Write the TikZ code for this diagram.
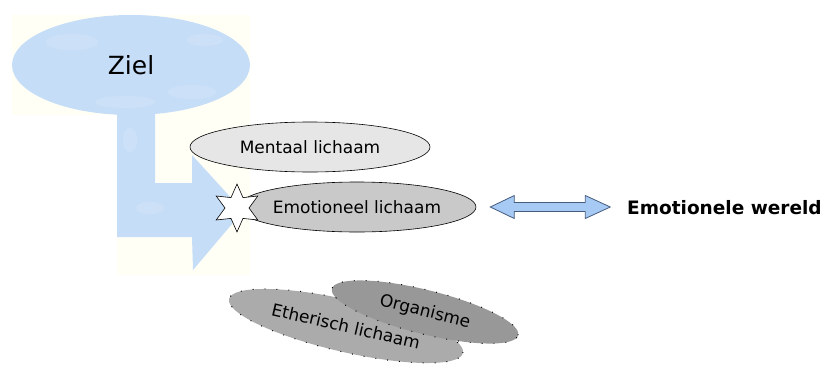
\documentclass[tikz,border=0pt]{standalone}
\usepackage{fontspec}
\setmainfont{DejaVu Sans}
\usetikzlibrary{shapes.geometric,calc}
\definecolor{cloud}{RGB}{197,221,247}
\definecolor{cloudlight}{RGB}{214,231,250}
\definecolor{cream}{RGB}{255,255,246}
\definecolor{mentfill}{RGB}{230,230,230}
\definecolor{emofill}{RGB}{201,201,201}
\definecolor{ethfill}{RGB}{171,171,171}
\definecolor{orgfill}{RGB}{152,152,152}
\definecolor{arrfill}{RGB}{166,202,244}
\definecolor{arrline}{RGB}{70,92,125}
\tikzset{
  body/.style={ellipse, inner sep=0pt, draw=black, line width=0.6pt,
    font=\fontsize{17}{20}\selectfont},
  dotbody/.style={ellipse, inner sep=0pt, draw=black, line width=1pt,
    dash pattern=on 0.9pt off 11pt, font=\fontsize{17}{20}\selectfont},
  dblarrow/.style={fill=arrfill, draw=arrline, line width=0.8pt, line join=miter},
  blob/.style={fill=cloudlight, opacity=0.45},
}
\begin{document}
\begin{tikzpicture}[x=1pt,y=-1pt]
\useasboundingbox (0,0) rectangle (825,367);
% faint picture backgrounds
\fill[cream] (12,15) rectangle (250,115);
\fill[cream] (117,115) rectangle (250,275);
% bent arrow
\fill[cloud] (117,90) -- (155,90) -- (155,183) -- (192,183) -- (192,155)
  -- (243,211) -- (193,270) -- (192,237) -- (117,237) -- cycle;
\fill[blob] (130,140) ellipse (7 and 12);
\fill[blob] (150,208) ellipse (14 and 6);
% Ziel
\node[ellipse, fill=cloud, inner sep=0pt, minimum width=238pt, minimum height=100pt] (ziel) at (131,65) {};
\fill[blob] (72,42) ellipse (26 and 8);
\fill[blob] (192,92) ellipse (24 and 7);
\fill[blob] (125,102) ellipse (30 and 6);
\fill[blob] (205,40) ellipse (18 and 6);
\node[font=\fontsize{25}{29}\selectfont] (zieltext) at (ziel.center) {Ziel};
% bodies
\node[body, fill=mentfill, minimum width=240pt, minimum height=50pt] (mentaal) at (310,147) {Mentaal lichaam};
\node[body, fill=emofill, minimum width=234pt, minimum height=50pt] (emot) at (357,207) {Emotioneel lichaam};
\node[star, star points=6, star point ratio=2.0, draw=black, fill=white, line width=0.6pt,
  inner sep=0pt, minimum size=48pt] (ster) at (237,208) {};
\node[dotbody, fill=ethfill, rotate=-13, minimum width=240pt, minimum height=52pt] (ether) at (346,326) {Etherisch lichaam};
\node[dotbody, fill=orgfill, rotate=-14, minimum width=192pt, minimum height=44pt] (organ) at (425,312) {Organisme};
% emotional world
\node[anchor=west, inner sep=0pt, font=\bfseries\fontsize{18.5}{22}\selectfont] (wereld) at (627,208) {Emotionele wereld};
\draw[dblarrow] ([xshift=14pt]emot.east) -- ++(24,-11.5) -- ++(0,7) -- ++(71,0) -- ++(0,-7)
  -- ++(25,11.5) -- ++(-25,11.5) -- ++(0,-7) -- ++(-71,0) -- ++(0,7) -- cycle;
\end{tikzpicture}
\end{document}
